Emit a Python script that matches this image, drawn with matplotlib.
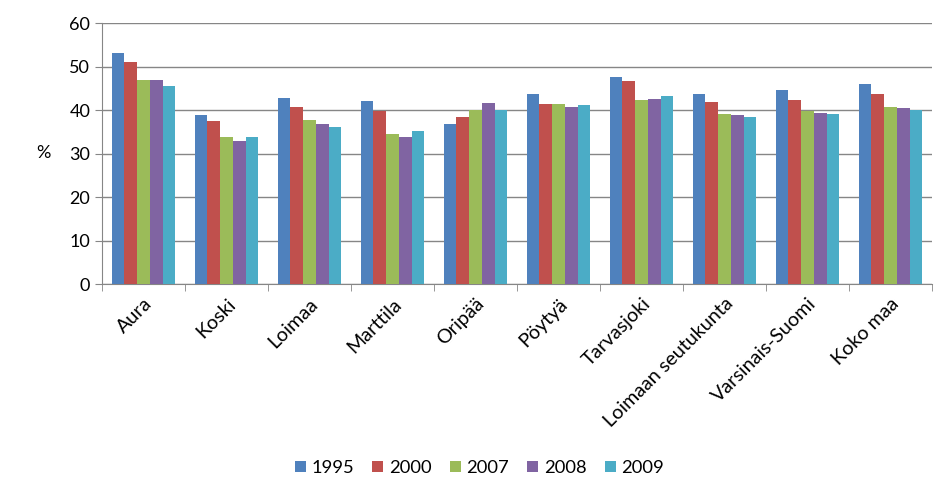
import numpy as np
import matplotlib
matplotlib.use("Agg")
import matplotlib.pyplot as plt

plt.rcParams['font.family'] = ['Lato', 'DejaVu Sans']

categories = ["Aura", "Koski", "Loimaa", "Marttila", "Oripää", "Pöytyä",
              "Tarvasjoki", "Loimaan seutukunta", "Varsinais-Suomi", "Koko maa"]
years = ["1995", "2000", "2007", "2008", "2009"]
v1995 = [53.0, 38.8, 42.7, 42.0, 36.7, 43.8, 47.7, 43.6, 44.5, 46.1]
v2000 = [51.1, 37.4, 40.6, 39.8, 38.5, 41.5, 46.6, 41.8, 42.2, 43.6]
v2007 = [46.8, 33.7, 37.6, 34.4, 39.9, 41.3, 42.4, 39.2, 39.8, 40.8]
v2008 = [46.8, 32.8, 36.7, 33.9, 41.7, 40.6, 42.6, 38.8, 39.4, 40.4]
v2009 = [45.6, 33.7, 36.2, 35.1, 40.1, 41.1, 43.3, 38.5, 39.2, 40.1]
series = [v1995, v2000, v2007, v2008, v2009]
colors = ["#4F81BD", "#C0504D", "#9BBB59", "#8064A2", "#4BACC6"]

fig = plt.figure(figsize=(9.53, 5.01), dpi=100)
ax = fig.add_axes([0.107, 0.433, 0.871, 0.521])

x = np.arange(len(categories))
w = 0.153
for i, (vals, c, lab) in enumerate(zip(series, colors, years)):
    ax.bar(x + (i - 2) * w, vals, width=w, color=c, label=lab, zorder=3)

ax.set_xlim(-0.5, len(categories) - 0.5)
ax.set_ylim(0, 60)
ax.set_yticks(range(0, 61, 10))
ax.yaxis.grid(True, color="#868686", linewidth=1, zorder=0)

ax.set_xticks(x)
ax.set_xticklabels(categories, rotation=45, ha="right", rotation_mode="anchor",
                   fontsize=14.2)
ax.tick_params(axis="x", length=0, pad=8)
ax.set_xticks(np.arange(-0.5, len(categories), 1), minor=True)
ax.tick_params(axis="x", which="minor", length=5, color="#868686")
ax.tick_params(axis="y", length=5, color="#868686", labelsize=13)

for s in ["top", "right"]:
    ax.spines[s].set_visible(False)
ax.spines["left"].set_color("#868686")
ax.spines["bottom"].set_color("#868686")

fig.text(0.046, 0.695, "%", fontsize=13, ha="center", va="center")

fig.legend(loc="center", bbox_to_anchor=(0.503, 0.066), ncol=5, frameon=False,
           fontsize=13.2, handlelength=0.6, handleheight=0.6, handletextpad=0.3,
           columnspacing=1.0)

fig.savefig("out.png", dpi=100)
